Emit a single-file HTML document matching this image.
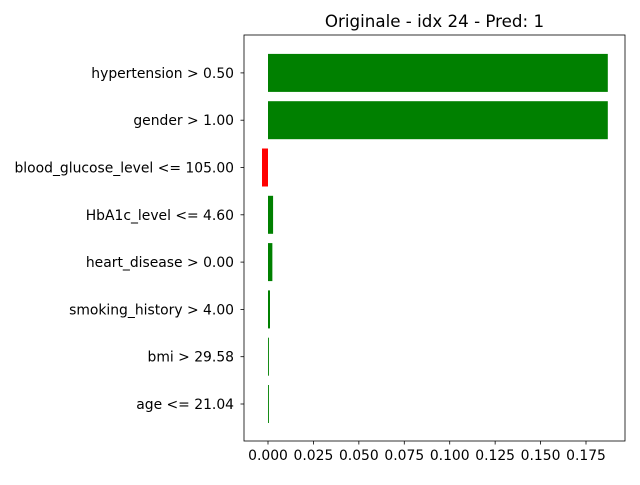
<!DOCTYPE html>
<html><head><meta charset="utf-8"><style>body{margin:0;background:#fff}svg{font-family:"DejaVu Sans",sans-serif}</style></head>
<body>
<svg id="c" width="640" height="480"></svg>
<script>
const labels=["age <= 21.04","bmi > 29.58","smoking_history > 4.00","heart_disease > 0.00","HbA1c_level <= 4.60","blood_glucose_level <= 105.00","gender > 1.00","hypertension > 0.50"];
const values=[0.0005,0.0005,0.0011,0.0024,0.0028,-0.0033,0.187,0.187];
const ticks=[0,0.025,0.05,0.075,0.1,0.125,0.15,0.175];
const tickLabels=["0.000","0.025","0.050","0.075","0.100","0.125","0.150","0.175"];
const NS="http://www.w3.org/2000/svg",svg=document.getElementById('c');
const L=244,R=625,T=35,B=441;
const x=v=>268+v*(318/0.175);
const y=i=>404-i*47.3;
function mk(t,a){const e=document.createElementNS(NS,t);for(const k in a)e.setAttribute(k,a[k]);svg.appendChild(e);return e;}
values.forEach((v,i)=>{
 const r=mk('rect',{x:Math.min(x(0),x(v)),y:y(i)-19,width:Math.abs(x(v)-x(0)),height:38,fill:v<0?'red':'green'});
 
 
 mk('line',{x1:L-3.5,x2:L,y1:y(i),y2:y(i),stroke:'#000','stroke-width':0.8});
 const t=mk('text',{x:L-10,y:y(i)+5,'text-anchor':'end','font-size':13.9});
 t.textContent=labels[i];
 
 
});
ticks.forEach((v,i)=>{
 mk('line',{x1:x(v),x2:x(v),y1:B,y2:B+3.5,stroke:'#000','stroke-width':0.8});
 const t=mk('text',{x:x(v),y:B+19,'text-anchor':'middle','font-size':13.9});
 t.textContent=tickLabels[i];
 
 
});
const f=mk('rect',{x:L,y:T,width:R-L,height:B-T,fill:'none',stroke:'#000','stroke-width':0.8});


const ti=mk('text',{x:(L+R)/2,y:T-8,'text-anchor':'middle','font-size':16.7});
ti.textContent="Originale - idx 24 - Pred: 1";


</script>
</body></html>
